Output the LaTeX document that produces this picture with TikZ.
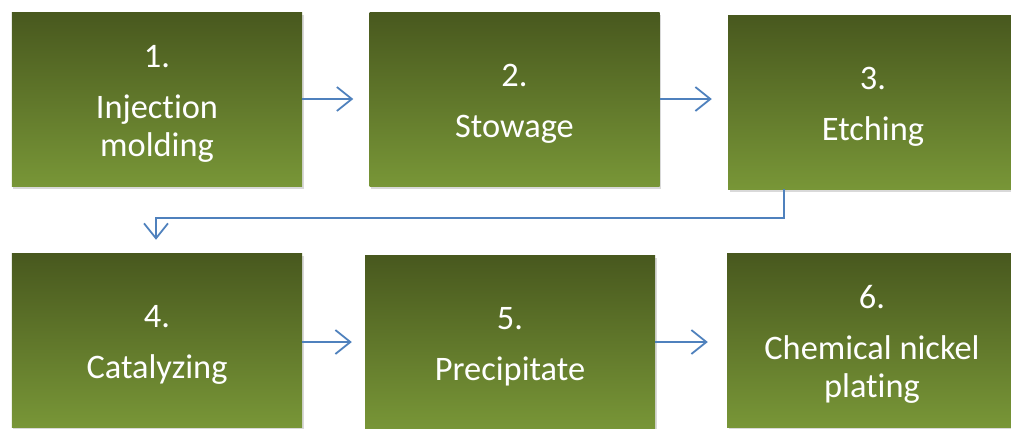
\documentclass[tikz,border=0pt]{standalone}
\usepackage{fontspec}
\setmainfont[Ligatures=NoCommon]{Carlito}
\usetikzlibrary{arrows.meta,positioning,shadows}
\definecolor{stepdark}{RGB}{72,88,30}
\definecolor{steplight}{RGB}{120,150,55}
\definecolor{flowblue}{RGB}{79,129,189}
\newcommand{\stepnum}[1]{\rule{0pt}{32bp}#1.\\[12bp]}

\begin{document}
\begin{tikzpicture}[x=1bp, y=-1bp,
    stepbox/.style={rectangle, minimum width=290bp, minimum height=174bp, inner sep=0pt,
                    top color=stepdark, bottom color=steplight, text=white, align=center,
                    font=\fontsize{34.5}{39}\selectfont,
                    drop shadow={shadow xshift=1.5bp, shadow yshift=-2.5bp, opacity=0.3}},
    flow/.style={draw=flowblue, line width=1.8bp, -{Straight Barb[length=15bp,width=24bp]}}
]
    \useasboundingbox (0,0) rectangle (1011,428);
    % first row
    \node[stepbox] (inject) at (157,99) {\stepnum{1}Injection\\molding};
    \node[stepbox] (stow) at (514.5,99) {\stepnum{2}Stowage};
    \node[stepbox] (etch) at (873,102) {\stepnum{3}Etching};
    % second row
    \node[stepbox] (catal) at (157,340) {\stepnum{4}Catalyzing};
    \node[stepbox] (precip) at (510,342) {\stepnum{5}Precipitate};
    \node[stepbox] (nickel) at (872,340) {\stepnum{6}Chemical nickel\\plating};
    % connectors
    \draw[flow, shorten >=16bp] (inject.east) -- (stow.west);
    \draw[flow, shorten >=16bp] (stow.east) -- (etch.west |- stow.east);
    \coordinate (bend) at (784,218);
    \draw[flow, shorten >=13bp] (bend |- etch.south) -- (bend) -| ([xshift=-1bp]catal.north);
    \draw[flow, shorten >=13bp] (catal.east |- precip.east) -- (precip.west);
    \draw[flow, shorten >=19bp] (precip.east) -- (nickel.west |- precip.east);
\end{tikzpicture}
\end{document}
